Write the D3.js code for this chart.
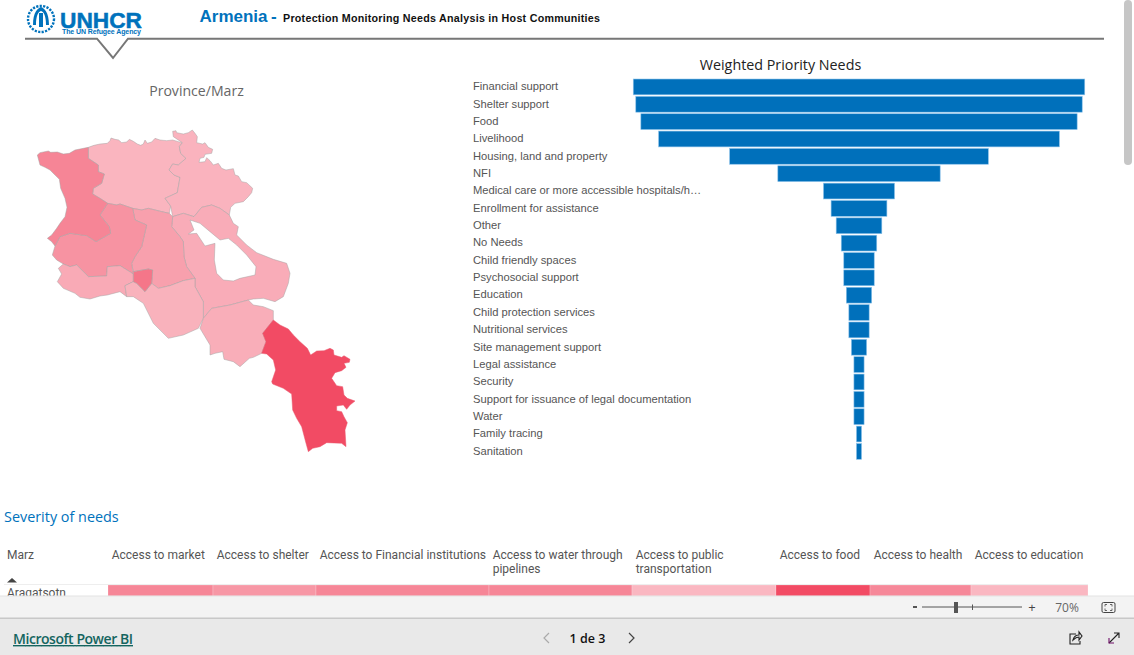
<!DOCTYPE html>
<html><head><meta charset="utf-8">
<script src="https://cdn.jsdelivr.net/npm/d3@7"></script>
<style>html,body{margin:0;padding:0;background:#fff;overflow:hidden}svg{display:block}</style>
</head><body><svg id="c" width="1134" height="655"></svg>
<script>
const needs=["Financial support","Shelter support","Food","Livelihood","Housing, land and property","NFI","Medical care or more accessible hospitals/h…","Enrollment for assistance","Other","No Needs","Child friendly spaces","Psychosocial support","Education","Child protection services","Nutritional services","Site management support","Legal assistance","Security","Support for issuance of legal documentation","Water","Family tracing","Sanitation"];
const needValues=[89,88,86,79,51,32,14,11,9,7,6,6,5,4,4,3,2,2,2,2,1,1];
const severityHeaders=[["Access to market"],["Access to shelter"],["Access to Financial institutions"],["Access to water through","pipelines"],["Access to public","transportation"],["Access to food"],["Access to health"],["Access to education"]];
const severityWeights=[105,103,173,143,144,94,101,117];
const aragatsotnSeverity=[67,58,67,67,40,100,66,40];
const marzNames=["Lori","Tavush","Gegharkunik","Kotayk","Aragatsotn","Armavir","Ararat","Vayots Dzor","Syunik","Shirak","Yerevan"];
const marzSeverity=[41,42,46,53,60,47,43,45,100,68,76];
const marzShapes=[
[[[205,82],[222,76],[240,72],[262,70],[270,62],[273,54],[285,58],[296,60],[305,68],[320,66],[328,58],[340,64],[352,72],[362,76],[370,72],[375,60],[382,70],[395,66],[405,55],[420,60],[440,62],[458,60],[475,65],[487,68],[478,80],[482,100],[498,115],[475,135],[458,132],[447,150],[462,165],[480,172],[472,218],[435,235],[452,258],[448,280],[425,275],[385,265],[365,270],[338,265],[300,252],[290,255],[263,250],[240,235],[218,222],[220,205],[245,190],[253,162],[235,155],[235,135],[205,115]]],
[[[458,34],[468,32],[470,38],[490,42],[505,38],[517,30],[525,40],[532,50],[530,68],[548,72],[555,68],[565,82],[578,88],[575,100],[555,103],[552,112],[540,115],[537,127],[555,125],[560,113],[570,122],[580,135],[595,130],[605,145],[618,150],[640,146],[645,165],[655,168],[665,185],[680,188],[698,205],[695,218],[685,230],[670,245],[645,250],[632,262],[628,285],[600,265],[575,255],[545,262],[522,290],[490,280],[458,290],[452,258],[435,235],[472,218],[480,172],[462,165],[447,150],[458,132],[475,135],[498,115],[482,100],[478,80],[487,68],[460,50]]],
[[[458,290],[490,280],[522,290],[545,262],[575,255],[600,265],[628,285],[640,310],[655,320],[650,345],[680,375],[710,398],[760,418],[800,430],[810,460],[805,490],[790,530],[765,545],[730,535],[700,537],[685,540],[630,555],[575,565],[550,595],[550,545],[525,500],[525,475],[500,440],[492,410],[490,365],[480,350],[455,320]],[[510,300],[540,310],[570,335],[600,360],[625,355],[650,375],[680,405],[708,440],[705,465],[660,475],[640,483],[610,480],[590,460],[583,420],[585,370],[555,378],[530,340],[505,342],[522,330]]],
[[[338,265],[365,270],[385,265],[425,275],[448,280],[458,290],[455,320],[480,350],[490,365],[492,410],[500,440],[525,475],[490,482],[450,497],[415,505],[395,490],[398,450],[385,447],[340,455],[335,430],[345,410],[365,380],[380,315],[345,300]]],
[[[263,250],[290,255],[300,252],[338,265],[345,300],[380,315],[365,380],[345,410],[335,430],[340,462],[300,437],[262,440],[260,468],[205,470],[170,435],[150,440],[130,432],[110,420],[97,405],[105,378],[120,350],[150,340],[200,347],[228,365],[272,340],[268,320],[240,285]]],
[[[130,432],[150,440],[170,435],[205,470],[260,468],[262,440],[300,437],[340,462],[340,485],[315,497],[320,530],[300,515],[262,525],[240,528],[210,537],[180,532],[165,520],[130,505],[112,485],[125,462],[115,445]]],
[[[340,485],[350,490],[375,515],[395,490],[415,505],[450,497],[490,482],[525,475],[525,500],[550,545],[550,595],[535,625],[490,645],[445,655],[400,610],[370,550],[340,530],[320,530],[315,497]]],
[[[550,595],[575,565],[630,555],[685,540],[700,555],[730,560],[760,572],[760,600],[728,640],[738,665],[725,700],[700,712],[688,715],[660,740],[640,725],[612,718],[608,695],[585,700],[570,705],[570,675],[555,650],[540,625]]],
[[[760,600],[780,615],[805,627],[820,645],[840,665],[862,685],[872,705],[890,693],[912,692],[930,685],[940,690],[942,705],[965,712],[972,707],[990,718],[988,727],[972,730],[978,742],[965,752],[945,758],[935,775],[950,797],[968,800],[972,825],[982,835],[1005,843],[990,855],[980,868],[970,855],[950,858],[950,872],[965,875],[972,890],[982,908],[975,930],[978,980],[965,970],[920,968],[900,980],[878,985],[865,995],[858,970],[845,920],[830,895],[818,870],[815,822],[790,805],[758,792],[755,785],[767,750],[760,720],[740,702],[725,700],[738,665],[728,640]]],
[[[52,105],[60,98],[85,93],[92,97],[112,96],[130,102],[148,100],[165,90],[205,82],[205,115],[235,135],[235,155],[253,162],[245,190],[220,205],[218,222],[240,235],[263,250],[240,285],[268,320],[272,340],[228,365],[200,347],[150,340],[120,350],[105,378],[95,365],[82,355],[95,345],[110,325],[120,310],[135,290],[141,262],[135,235],[122,205],[118,178],[105,165],[90,150],[75,142],[60,135]]],
[[[340,455],[385,447],[398,450],[395,490],[375,515],[350,490],[340,485]]]
];
const svg=d3.select("#c");
const sans="'Liberation Sans',Arial,sans-serif", seg="'Open Sans','Noto Sans',sans-serif", tbl="Roboto,sans-serif";
const txt=(x,y,s,size,fill,opt={})=>svg.append("text").attr("x",x).attr("y",y).text(s).attr("font-size",size).attr("fill",fill).attr("font-family",opt.f||sans).attr("font-weight",opt.w||null).attr("text-anchor",opt.a||null).attr("text-decoration",opt.d||null);
const heat=d3.scaleLinear().domain([0,100]).range(["#ffffff","#f24b64"]);

// header
const lg=svg.append("g");
lg.append("circle").attr("cx",41).attr("cy",19).attr("r",13).attr("fill","none").attr("stroke","#0072bc").attr("stroke-width",2.4).attr("stroke-dasharray","2.2 1.3");
lg.append("path").attr("d","M33 25C33 12 38 8 41 7C44 8 49 12 49 25L46 25C46 16 44 12 41 11C38 12 36 16 36 25Z").attr("fill","#0072bc");
lg.append("path").attr("d","M39 13h4v14h-4Z").attr("fill","#0072bc");
txt(60,27.5,"UNHCR",22,"#0072bc",{w:"bold"}).attr("textLength",82).attr("lengthAdjust","spacingAndGlyphs").attr("stroke","#0072bc").attr("stroke-width",.5);
txt(62,34,"The UN Refugee Agency",7,"#0072bc",{w:"bold"}).attr("textLength",79);
txt(199.5,22,"Armenia",17,"#0072bc",{w:"bold"});
txt(271,22,"-",17,"#0072bc",{w:"bold"});
txt(283,22,"Protection Monitoring Needs Analysis in Host Communities",10.7,"#111",{w:"bold"}).attr("textLength",317);
svg.append("path").attr("d","M25 38.7H97L113 58L128 38.7H1104").attr("fill","none").attr("stroke","#777").attr("stroke-width",2);

// map
txt(196.5,96,"Province/Marz",14.1,"#666",{f:seg,a:"middle"});
const projection=d3.geoIdentity().scale(1/3).translate([20,120]);
const path=d3.geoPath(projection);
const closeRing=r=>r.concat([r[0]]);
const features=marzNames.map((n,i)=>({type:"Feature",properties:{name:n,v:marzSeverity[i]},geometry:{type:"Polygon",coordinates:marzShapes[i].map(closeRing)}}));
svg.append("g").selectAll("path").data(features).join("path").attr("d",path).attr("fill-rule","evenodd").attr("fill",d=>heat(d.properties.v)).attr("stroke",d=>d.properties.v===100?"#e8566c":"#a3a3a3").attr("stroke-opacity",.8).attr("stroke-width",.6);

// funnel
txt(780.5,70,"Weighted Priority Needs",14.3,"#222",{f:seg,a:"middle"});
const y=d3.scaleBand().domain(needs).range([78.5,459.8]).paddingInner(.09).paddingOuter(.03);
const w=d3.scaleLinear().domain([0,89]).range([0,451.5]);
const cx=859;
const rows=svg.append("g").selectAll("g").data(needs).join("g");
rows.append("text").attr("x",473).attr("y",d=>y(d)+y.bandwidth()/2+3.3).text(d=>d).attr("font-size",11.2).attr("fill","#555").attr("font-family",sans);
rows.append("rect").attr("x",(d,i)=>cx-w(needValues[i])/2).attr("y",d=>y(d)).attr("width",(d,i)=>w(needValues[i])).attr("height",y.bandwidth()).attr("fill","#0070bb").attr("stroke","#8cc2ea").attr("stroke-width",.6);

// table
txt(4,522,"Severity of needs",14.4,"#0072bc",{f:seg});
txt(7,559,"Marz",12,"#555",{f:tbl});
const x0=108;
const sx=d3.scaleLinear().domain([0,d3.sum(severityWeights)]).range([x0,1088]);
let cum=0;
severityHeaders.forEach((h,i)=>{
  const a=sx(cum),b=sx(cum+severityWeights[i]);cum+=severityWeights[i];
  h.forEach((l,j)=>txt(a+3.7,559+j*14.1,l,12,"#555",{f:tbl}));
  svg.append("rect").attr("x",a).attr("y",585).attr("width",b-a).attr("height",11).attr("fill",heat(aragatsotnSeverity[i])).attr("stroke","#fff").attr("stroke-opacity",.35).attr("stroke-width",.6);
});
svg.append("line").attr("x1",4).attr("x2",1088).attr("y1",584.5).attr("y2",584.5).attr("stroke","#eee");
svg.append("path").attr("d","M7 582.5L12 578L17 582.5Z").attr("fill","#444");
txt(7,597,"Aragatsotn",12,"#555",{f:tbl});

// scrollbar
svg.append("rect").attr("x",1124).attr("y",0).attr("width",8).attr("height",165).attr("rx",4).attr("fill","#c6c6c6");

// bottom chrome
svg.append("rect").attr("x",0).attr("y",596).attr("width",1134).attr("height",22).attr("fill","#f3f3f3");
svg.append("rect").attr("x",0).attr("y",595.5).attr("width",1134).attr("height",1).attr("fill","#e4e4e4");
svg.append("rect").attr("x",0).attr("y",618).attr("width",1134).attr("height",37).attr("fill","#e9e9e9");
svg.append("rect").attr("x",0).attr("y",617.5).attr("width",1134).attr("height",1.5).attr("fill","#c8c8c8");
svg.append("rect").attr("x",913).attr("y",606).attr("width",4).attr("height",2).attr("fill","#555");
svg.append("line").attr("x1",922).attr("x2",1022).attr("y1",607).attr("y2",607).attr("stroke","#555");
svg.append("line").attr("x1",972.5).attr("x2",972.5).attr("y1",604.5).attr("y2",610).attr("stroke","#555");
svg.append("rect").attr("x",954).attr("y",602).attr("width",4).attr("height",11).attr("fill","#555");
txt(1032,612,"+",13,"#444",{f:seg,a:"middle"});
txt(1067,611.5,"70%",12,"#666",{f:seg,a:"middle"});
svg.append("rect").attr("x",1102).attr("y",602.5).attr("width",13).attr("height",10).attr("rx",1.5).attr("fill","none").attr("stroke","#444");
svg.append("path").attr("d","M1105 606.5v-2h2M1112 606.5v-2h-2M1105 608.5v2h2M1112 608.5v2h-2").attr("fill","none").attr("stroke","#444").attr("stroke-width",.8);
txt(13,644,"Microsoft Power BI",14,"#14655f",{f:seg,w:600,d:"underline"}).attr("textLength",120);
svg.append("path").attr("d","M549 633L544 638L549 643").attr("fill","none").attr("stroke","#aaa").attr("stroke-width",1.2);
svg.append("path").attr("d","M629 633L634 638L629 643").attr("fill","none").attr("stroke","#444").attr("stroke-width",1.2);
txt(587.5,643,"1 de 3",12.5,"#111",{f:seg,a:"middle",w:600});
svg.append("path").attr("d","M1076 634h-6v10h10v-3M1073 640C1074 636 1077 635 1079 635V632L1082 636L1079 640V637C1077 637 1075 638 1073 640Z").attr("fill","none").attr("stroke","#222").attr("stroke-width",1.1);
svg.append("path").attr("d","M1109 643L1119 633M1114 633h5v5").attr("fill","none").attr("stroke","#222").attr("stroke-width",1.1);
svg.append("path").attr("d","M1109 638v5h5").attr("fill","none").attr("stroke","#70106a").attr("stroke-width",1.1);
</script></body></html>
